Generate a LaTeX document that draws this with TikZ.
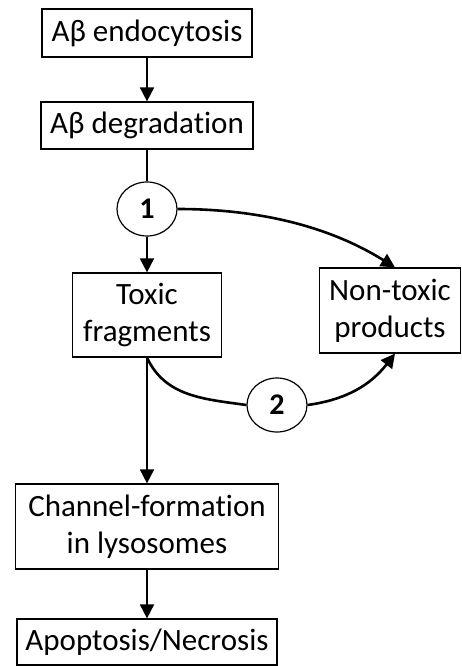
\documentclass[tikz,border=0pt]{standalone}
\usepackage{fontspec}
\setmainfont[Ligatures=NoCommon]{Carlito}
\usetikzlibrary{arrows.meta,shapes.geometric}

\begin{document}
\begin{tikzpicture}[x=1pt,y=-1pt,
box/.style={draw,line width=1.2pt,align=center,inner sep=0pt,font=\fontsize{31}{37}\selectfont},
num/.style={ellipse,draw,line width=1.2pt,minimum width=60pt,minimum height=54pt,inner sep=0pt,font=\fontsize{30}{32}\selectfont\bfseries},
>={Triangle[length=14pt,width=14pt]}]
\useasboundingbox (0,0) rectangle (461,666);
\node[box,minimum width=210pt,minimum height=48pt] (endo) at (147,33) {Aβ endocytosis};
\node[box,minimum width=212pt,minimum height=47pt] (degr) at (147,125.5) {Aβ degradation};
\node[box,minimum width=149pt,minimum height=84pt] (toxic) at (147,315) {Toxic\\fragments};
\node[box,minimum width=141pt,minimum height=85pt] (nontoxic) at (390,310.5) {Non-toxic\\products};
\node[box,minimum width=263pt,minimum height=85pt] (channel) at (147,526.5) {Channel-formation\\in lysosomes};
\node[box,minimum width=260pt,minimum height=46pt] (apop) at (147,642) {Apoptosis/Necrosis};
\foreach \n/\x/\y/\t in {one/147/209/1,two/277/405/2}{
\node[num] (\n) at (\x,\y) {\t};}
% main chain
\draw[->,line width=1.8pt](endo)--(degr);
\draw[line width=1.8pt](degr)--(one);
\draw[->,line width=1.8pt](one)--(toxic);
\draw[->,line width=1.8pt](toxic)--(channel);
\draw[->,line width=1.8pt](channel)--(apop);
% side branches
\draw[->,line width=2.6pt](one.east) to[out=0,in=148,looseness=0.9] ([xshift=5pt]nontoxic.north);
\draw[line width=2.6pt](toxic.south) to[out=-65,in=172] (two.west);
\draw[->,line width=2.6pt](two.east) to[out=8,in=-128] ([xshift=5pt]nontoxic.south);
\end{tikzpicture}
\end{document}
